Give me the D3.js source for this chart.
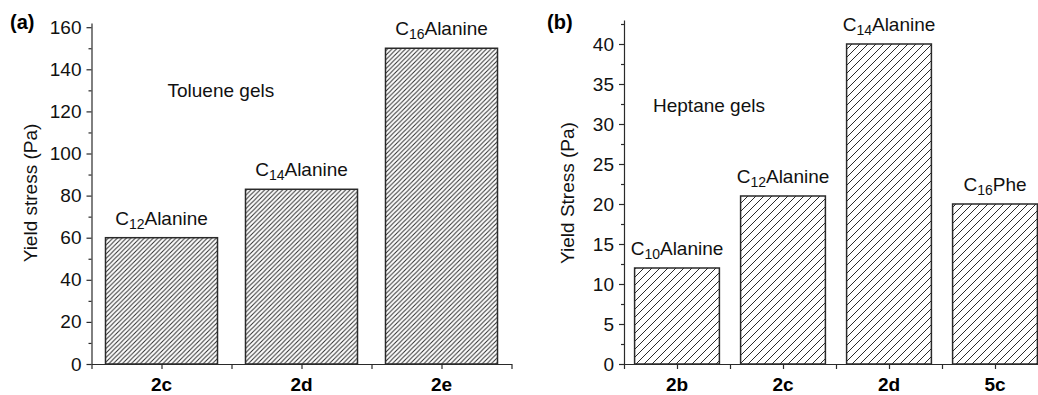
<!DOCTYPE html>
<html>
<head>
<meta charset="utf-8">
<script src="https://cdn.jsdelivr.net/npm/d3@7"></script>
<style>
  body { margin: 0; background: #fff; }
  svg { display: block; font-family: "Liberation Sans", Arial, sans-serif; }
  .axis path, .axis line { stroke: #2a2a2a; stroke-width: 1.2; }
</style>
</head>
<body>
<svg id="chart" width="1038" height="395"></svg>
<script>
// panel (a) toluene gels
const catsA = ['2c', '2d', '2e'];
const valsA = [60, 83, 150];
const labA = [['C', '12', 'Alanine'], ['C', '14', 'Alanine'], ['C', '16', 'Alanine']];
const ticksA = [0, 20, 40, 60, 80, 100, 120, 140, 160];
const minorA = d3.range(10, 161, 20);

// panel (b) heptane gels
const catsB = ['2b', '2c', '2d', '5c'];
const valsB = [12, 21, 40, 20];
const labB = [['C', '10', 'Alanine'], ['C', '12', 'Alanine'], ['C', '14', 'Alanine'], ['C', '16', 'Phe']];
const ticksB = [0, 5, 10, 15, 20, 25, 30, 35, 40];
const minorB = d3.range(2.5, 43, 5);

const fs = 19;
const svg = d3.select('#chart');
const defs = svg.append('defs');

const hatch = (id, s) => {
    defs.append('pattern')
      .attr('id', id)
      .attr('patternUnits', 'userSpaceOnUse')
      .attr('width', s).attr('height', s)
      .append('path')
      .attr('d', `M-1,1 L1,-1 M0,${s} L${s},0 M${s - 1},${s + 1} L${s + 1},${s - 1}`)
      .attr('stroke', '#2a2a2a')
      .attr('stroke-width', 1);
}
hatch('hA', 4.5);
hatch('hB', 8);

const drawPanel = (p) => {
    const g = svg.append('g');
    const x = d3.scaleBand().domain(p.cats).range(p.xr).paddingInner(0.2).paddingOuter(0.1);
    const y = d3.scaleLinear().domain(p.yd).range([364, p.ytop]);
    const x0 = p.xr[0];

    // bars
    g.selectAll('.bar').data(p.vals)
      .join('rect')
      .attr('class', 'bar')
      .attr('x', (d, i) => x(p.cats[i]))
      .attr('width', x.bandwidth())
      .attr('y', d => y(d))
      .attr('height', d => y(0) - y(d))
      .attr('fill', `url(#${p.hatch})`)
      .attr('stroke', '#2a2a2a')
      .attr('stroke-width', 1.5);

    // y axis
    g.append('g').attr('class', 'axis')
      .attr('transform', `translate(${x0},0)`)
      .call(d3.axisLeft(y).tickValues(p.ticks).tickSize(5).tickPadding(5).tickSizeOuter(0))
      .call(a => a.selectAll('text').attr('font-size', fs).attr('fill', '#111').attr('font-family', null));
    g.append('g').attr('class', 'axis')
      .attr('transform', `translate(${x0},0)`)
      .call(d3.axisLeft(y).tickValues(p.minor).tickSize(3).tickFormat('').tickSizeOuter(0))
      .call(a => a.select('.domain').remove());

    // x axis: ticks at band centres and between bands
    const step = x.step();
    const xl = d3.scaleLinear().domain([0, p.cats.length]).range([x0, x0 + step * p.cats.length]);
    const xt = d3.range(0, p.cats.length + 0.01, 0.5);
    g.append('g').attr('class', 'axis')
      .attr('transform', 'translate(0,364)')
      .call(d3.axisBottom(xl).tickValues(xt).tickSize(5).tickSizeOuter(0).tickFormat(''));
    g.selectAll('.xlab').data(p.cats)
      .join('text')
      .attr('x', d => x(d) + x.bandwidth() / 2)
      .attr('y', 391)
      .attr('text-anchor', 'middle')
      .attr('font-size', fs)
      .attr('font-weight', 'bold')
      .text(d => d);

    // bar labels with subscripts
    const bl = g.selectAll('.blab').data(p.labs)
      .join('text')
      .attr('x', (d, i) => x(p.cats[i]) + x.bandwidth() / 2)
      .attr('y', (d, i) => y(p.vals[i]) - 13)
      .attr('text-anchor', 'middle')
      .attr('font-size', fs)
      .attr('fill', '#111');
    bl.append('tspan').text(d => d[0]);
    bl.append('tspan').attr('font-size', 14).attr('dy', 4).text(d => d[1]);
    bl.append('tspan').attr('dy', -4).text(d => d[2]);

    // y title
    g.append('text')
      .attr('transform', `translate(${p.ytx},193) rotate(-90)`)
      .attr('text-anchor', 'middle')
      .attr('font-size', fs)
      .attr('fill', '#111')
      .text(p.ytitle);

    // panel note
    g.append('text')
      .attr('x', x0 + p.note[0])
      .attr('y', y(p.note[1]))
      .attr('font-size', fs)
      .attr('fill', '#111')
      .text(p.note[2]);

    // panel letter
    g.append('text')
      .attr('x', p.letter[0])
      .attr('y', 29)
      .attr('font-size', 20)
      .attr('font-weight', 'bold')
      .text(p.letter[1]);
}

drawPanel({
    cats: catsA, vals: valsA, labs: labA, ticks: ticksA, minor: minorA,
    xr: [91.5, 511.5], yd: [0, 162], ytop: 364 - 162 * 2.105, hatch: 'hA',
    ytitle: 'Yield stress (Pa)', ytx: 37, note: [76, 127, 'Toluene gels'], letter: [10, '(a)']
});
drawPanel({
    cats: catsB, vals: valsB, labs: labB, ticks: ticksB, minor: minorB,
    xr: [624, 1048], yd: [0, 43], ytop: 364 - 43 * 8, hatch: 'hB',
    ytitle: 'Yield Stress (Pa)', ytx: 574, note: [29, 31.5, 'Heptane gels'], letter: [547, '(b)']
});
</script>
</body>
</html>
